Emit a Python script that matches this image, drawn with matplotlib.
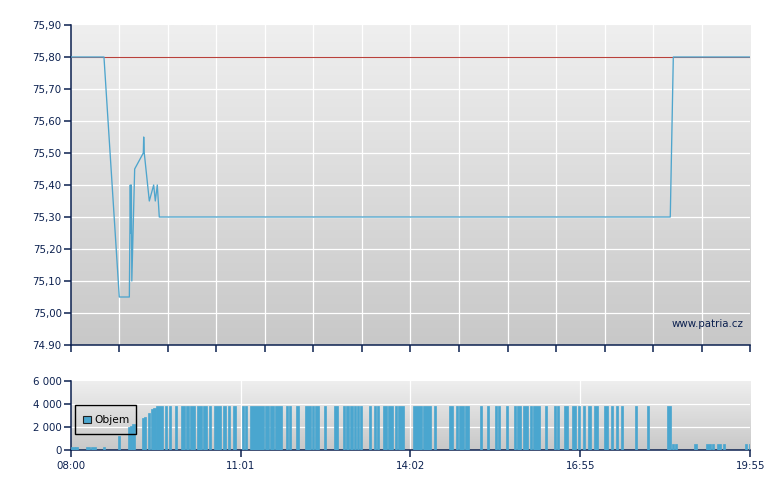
import numpy as np
import matplotlib
matplotlib.use("Agg")
import matplotlib.pyplot as plt
from matplotlib.patches import Rectangle
from matplotlib.colors import LinearSegmentedColormap

# ---------------- data ----------------
# time in minutes after 08:00 (axis spans 08:00 .. 19:55 = 715 min)
price_t = [0, 35.0, 51.1, 61.7, 62.7, 63.2, 63.8, 64.3, 67.3, 76.4, 76.8, 77.4,
           82.7, 87.3, 89.0, 91.1, 93.2, 630.8, 634.0, 715]
price_v = [75.80, 75.80, 75.05, 75.05, 75.40, 75.25, 75.40, 75.10, 75.45, 75.50,
           75.55, 75.50, 75.35, 75.40, 75.35, 75.40, 75.30, 75.30, 75.80, 75.80]
prev_close = 75.80

vol_start = [0, 5, 16, 21, 34, 50, 60, 62, 65, 75, 77, 81, 85, 87,
             90, 99, 103, 110, 116, 121, 125.5, 133, 139, 145.5, 151, 160, 165, 170.4,
             180, 183.4, 188.6, 204.4, 209.7, 215, 226.5, 229.7, 237, 246.5, 253.8, 256.9,
             266.5, 277, 286.5, 289.7, 293.9, 298, 301.2, 304.4, 313.8, 319, 322.3, 328.6,
             333.8, 341.2, 344.4, 360, 370.7, 382.3, 398, 405.4, 408.5, 414.8, 430.6, 438,
             446.4, 449.5, 458, 466.4, 469.6, 475.9, 483.2, 486.4, 499, 508.5, 511.7, 519,
             527.4, 533.7, 539, 544.2, 550.5, 561, 568.4, 573.7, 579, 593.6, 606.3, 627.3,
             632.5, 635.7, 655.7, 668.3, 674.6, 679.9, 686.2, 709.3, 713.5]
vol_end = [4, 7.4, 20.3, 26.3, 36, 52, 62, 64.5, 67.3, 77, 79, 83.4, 87.5, 90,
           97.4, 101, 106, 112, 120, 124, 131, 138, 143, 147.6, 158, 163, 168, 173.8,
           182.3, 185.5, 203.4, 208.6, 213.9, 222.3, 229, 231.8, 240, 252.8, 255.9, 261,
           268.6, 281.2, 288.6, 292.8, 297, 300.2, 303.3, 306.5, 316, 321.2, 324.4, 332.8,
           339, 343.3, 350.7, 369.6, 379, 384.4, 402, 407.5, 413.7, 419, 432.7, 440,
           448.5, 451.6, 460, 468.5, 473.8, 481.2, 485.3, 493.7, 501, 510.6, 513.8, 523.3,
           531.6, 535.8, 541, 547.4, 554.7, 565.2, 570.5, 575.8, 581, 595.7, 608.4, 631.5,
           634.6, 637.8, 658.8, 673.5, 676.7, 684.1, 688.3, 711.4, 715]
vol_value = [300, 300, 300, 300, 300, 1200, 2000, 2100, 2300, 2800, 2900, 3200, 3550, 3680] + \
            [3800] * 74 + [550] * 9

price_ticks = [74.9, 75.0, 75.1, 75.2, 75.3, 75.4, 75.5, 75.6, 75.7, 75.8, 75.9]
price_labels = ["74.90", "75,00", "75,10", "75,20", "75,30", "75,40", "75,50",
                "75,60", "75,70", "75,80", "75,90"]
vol_ticks = [0, 2000, 4000, 6000]
vol_labels = ["0", "2 000", "4 000", "6 000"]
time_labels = ["08:00", "11:01", "14:02", "16:55", "19:55"]
legend_label = "Objem"
watermark = "www.patria.cz"

# ---------------- style ----------------
NAVY = "#0c2150"
BLUE = "#4aa6cf"
LINE_BLUE = "#4ea5cd"
RED = "#b8403a"
plt.rcParams["font.family"] = ["DejaVu Sans"]
FS = 7.4

fig = plt.figure(figsize=(7.8, 4.9), dpi=100)
W, H = 780, 490
L, R = 70.7, 750.3

def axes_px(x0, x1, ytop, ybot):
    return fig.add_axes([x0 / W, 1 - ybot / H, (x1 - x0) / W, (ybot - ytop) / H])

ax = axes_px(L, R, 25, 345)
axv = axes_px(L, R, 381, 450.3)

grad = np.linspace(0, 1, 256).reshape(-1, 1)
cmap = LinearSegmentedColormap.from_list("bg", ["#efefef", "#c8c8c8"])
for a in (ax, axv):
    a.imshow(grad, cmap=cmap, aspect="auto", extent=[0, 1, 0, 1],
             transform=a.transAxes, zorder=0, interpolation="bilinear")
    for s in ("top", "right"):
        a.spines[s].set_visible(False)
    for s in ("left", "bottom"):
        a.spines[s].set_color(NAVY)
        a.spines[s].set_linewidth(1.1)
    a.tick_params(colors=NAVY, labelcolor=NAVY, labelsize=FS, direction="out",
                  length=5, width=1.1, pad=1.5)
    a.set_xlim(0, 715)

# main chart
ax.set_ylim(74.9, 75.9)
ax.set_yticks(price_ticks)
ax.set_yticklabels(price_labels)
ax.set_xticks(np.linspace(0, 715, 15))
ax.set_xticklabels([])
for y in price_ticks[1:-1]:
    ax.axhline(y, color="white", lw=0.9, zorder=1)
for x in np.linspace(0, 715, 15)[1:-1]:
    ax.axvline(x, color="white", lw=0.9, zorder=1)
ax.axhline(prev_close, color=RED, lw=0.8, zorder=2)
ax.plot(price_t, price_v, color=LINE_BLUE, lw=0.95, zorder=3)
ax.text(0.9897, 0.066, watermark, transform=ax.transAxes, ha="right", va="center",
        color=NAVY, fontsize=FS, zorder=4)

# volume chart
axv.set_ylim(0, 6000)
axv.set_yticks(vol_ticks)
axv.set_yticklabels(vol_labels)
vt = np.linspace(0, 715, 5)
axv.set_xticks(vt)
axv.set_xticklabels(time_labels)
axv.tick_params(axis="x", pad=3)
for y in vol_ticks[1:3]:
    axv.axhline(y, color="white", lw=0.9, zorder=1)
for x in vt[1:-1]:
    axv.axvline(x, color="white", lw=0.9, zorder=1)
vs = np.array(vol_start)
ve = np.array(vol_end)
axv.bar(vs, np.array(vol_value), width=ve - vs, align="edge", color=BLUE,
        edgecolor=BLUE, linewidth=0.5, zorder=3)

# legend box
axv.add_patch(Rectangle((0.0063, 0.2395), 0.0893, 0.4142, transform=axv.transAxes,
                        fill=False, edgecolor="black", lw=1.0, zorder=5))
axv.add_patch(Rectangle((0.0176, 0.40), 0.0118, 0.10, transform=axv.transAxes,
                        facecolor=BLUE, edgecolor="#222222", lw=0.8, zorder=6))
axv.text(0.0348, 0.44, legend_label, transform=axv.transAxes, ha="left", va="center",
         color="black", fontsize=FS + 0.3, zorder=6)

fig.savefig("out.png", dpi=100)
